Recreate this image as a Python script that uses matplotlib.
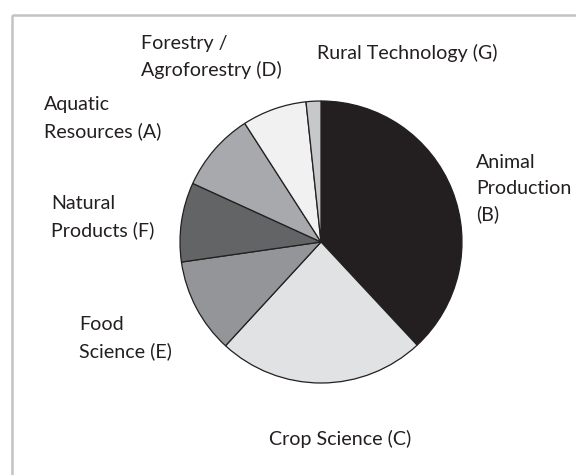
import matplotlib.pyplot as plt
from matplotlib.patches import Rectangle

# slices, clockwise from 12 o'clock
codes = ["B", "C", "E", "F", "A", "D", "G"]
shares = [38.1, 23.8, 10.9, 9.1, 9.1, 7.4, 1.7]
colors = ["#231f20", "#e1e2e3", "#939598", "#636466", "#a7a9ac", "#f1f1f2", "#c7c8ca"]

labels = {
    "B": "Animal\nProduction\n(B)",
    "C": "Crop Science (C)",
    "E": "Food\nScience (E)",
    "F": "Natural\nProducts (F)",
    "A": "Aquatic\nResources (A)",
    "D": "Forestry /\nAgroforestry (D)",
    "G": "Rural Technology (G)",
}
# label anchor in pixels (x, y from top), alignment
label_pos = {
    "B": (476, 189, "left"),
    "C": (340, 439, "center"),
    "E": (79, 338, "left"),
    "F": (51, 217, "left"),
    "A": (44, 118, "left"),
    "D": (141, 57, "left"),
    "G": (317, 53, "left"),
}

W, H = 576, 475
fig = plt.figure(figsize=(W / 100, H / 100), dpi=100)
plt.rcParams['font.family'] = ['Lato', 'DejaVu Sans']

# background layer in pixel coords
bg = fig.add_axes([0, 0, 1, 1])
bg.set_xlim(0, W)
bg.set_ylim(H, 0)
bg.axis('off')
bg.add_patch(Rectangle((12, 15), 700, 600, fill=False, edgecolor="#c2c3c5", lw=1.8))

# pie
cx, cy, r = 321, 242, 141
ax = fig.add_axes([(cx - r) / W, (H - cy - r) / H, 2 * r / W, 2 * r / H])
ax.pie(shares, colors=colors, startangle=90, counterclock=False,
       wedgeprops=dict(edgecolor="#231f20", linewidth=0.9))
ax.set_xlim(-1.0, 1.0)
ax.set_ylim(-1.0, 1.0)
ax.set_aspect('auto')
ax.axis('off')

for c in codes:
    x, y, ha = label_pos[c]
    bg.text(x, y, labels[c], ha=ha, va='center', fontsize=14.1,
            color="#231f20", linespacing=1.6)

fig.savefig("out.png", dpi=100)
